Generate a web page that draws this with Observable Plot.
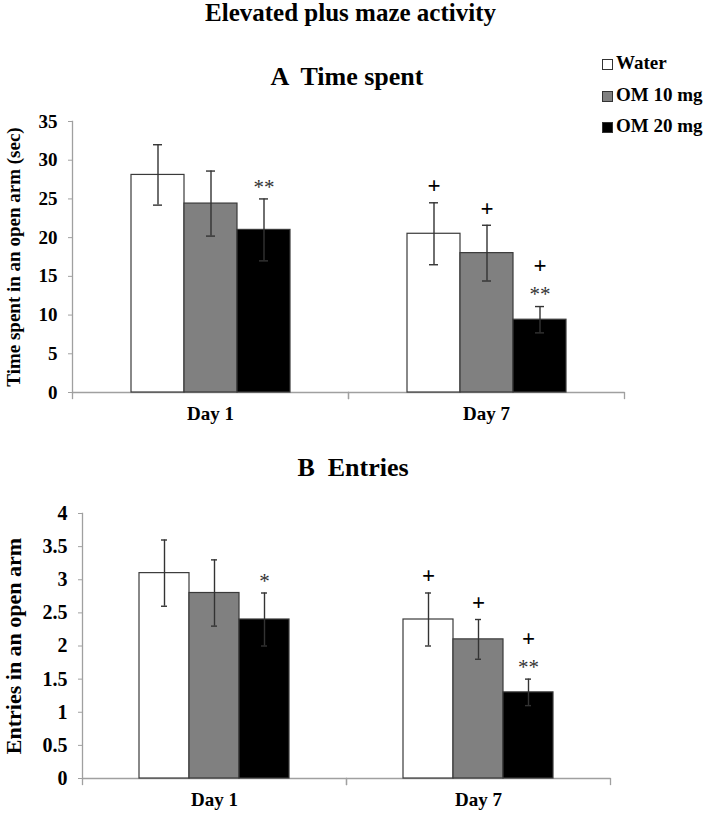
<!DOCTYPE html>
<html><head><meta charset="utf-8">
<script src="https://cdn.jsdelivr.net/npm/d3@7"></script>
<script src="https://cdn.jsdelivr.net/npm/@observablehq/plot@0.6"></script>
<style>
body{margin:0;background:#fff;}
#root{position:relative;width:708px;height:814px;font-family:'Liberation Serif','Times New Roman',serif;font-weight:bold;color:#000;overflow:hidden;}
.t{position:absolute;white-space:pre;line-height:1;}
.sw{position:absolute;width:9px;height:9px;border:1px solid #333;}
.panel{position:absolute;left:0;}
.panel svg, .panel svg text{font-family:'Liberation Serif','Times New Roman',serif !important;}
</style></head><body><div id="root">
<div class="t" style="left:0;width:701px;text-align:center;top:0px;font-size:25px;">Elevated plus maze activity</div>
<div class="t" style="left:0;width:694px;text-align:center;top:64px;font-size:26px;">A  Time spent</div>
<div class="t" style="left:0;width:706px;text-align:center;top:455px;font-size:26px;">B  Entries</div>
<div id="legend"></div>
<div class="panel" id="pa" style="top:100px;"></div>
<div class="panel" id="pb" style="top:493px;"></div>
</div>
<script>
const days = ["Day 1", "Day 7"];
const groups = ["Water", "OM 10 mg", "OM 20 mg"];
const groupColors = ["#ffffff", "#808080", "#000000"];

// Panel A: time spent in an open arm (sec)
const timeDay1 = [28.1, 24.4, 21.0];
const timeDay7 = [20.5, 18.0, 9.4];
const timeErrDay1 = [3.9, 4.2, 4.0];
const timeErrDay7 = [4.0, 3.6, 1.7];
const timeTicks = [0, 5, 10, 15, 20, 25, 30, 35];
const timeStars = [["Day 1", "OM 20 mg", "**"], ["Day 7", "OM 20 mg", "**"]];
const timePlus = [["Day 7", "Water"], ["Day 7", "OM 10 mg"], ["Day 7", "OM 20 mg"]];

// Panel B: entries in an open arm
const entriesDay1 = [3.1, 2.8, 2.4];
const entriesDay7 = [2.4, 2.1, 1.3];
const entriesErrDay1 = [0.5, 0.5, 0.4];
const entriesErrDay7 = [0.4, 0.3, 0.2];
const entriesTicks = [0, 0.5, 1, 1.5, 2, 2.5, 3, 3.5, 4];
const entriesStars = [["Day 1", "OM 20 mg", "*"], ["Day 7", "OM 20 mg", "**"]];
const entriesPlus = [["Day 7", "Water"], ["Day 7", "OM 10 mg"], ["Day 7", "OM 20 mg"]];

function rowsFor(v1, v7, e1, e7) {
  const rows = [];
  groups.forEach((g, i) => rows.push({day: days[0], group: g, value: v1[i], err: e1[i]}));
  groups.forEach((g, i) => rows.push({day: days[1], group: g, value: v7[i], err: e7[i]}));
  return rows;
}

const FONT = "'Liberation Serif','Times New Roman',serif";

function panel(cfg) {
  const rows = rowsFor(cfg.v1, cfg.v7, cfg.e1, cfg.e7);
  const top = (day, group) => { const r = rows.find(d => d.day === day && d.group === group); return r.value + r.err; };
  const stars = cfg.stars.map(([day, group, label]) => ({day, group, label, y: top(day, group)}));
  const starKeys = new Set(cfg.stars.map(s => s[0] + "|" + s[1]));
  const plus = cfg.plus.map(([day, group]) => ({day, group, y: top(day, group), stacked: starKeys.has(day + "|" + group)}));
  const innerH = cfg.height - cfg.marginTop - cfg.marginBottom;
  const axisStroke = "#a0a0a0";
  return Plot.plot({
    width: 708, height: cfg.height,
    marginLeft: cfg.marginLeft, marginRight: cfg.marginRight,
    marginTop: cfg.marginTop, marginBottom: cfg.marginBottom,
    style: `font-family:${FONT};font-weight:bold;background:transparent;color:#000;overflow:visible;`,
    fx: {domain: days, padding: 0, label: null},
    x: {domain: groups, paddingInner: 0, paddingOuter: 1.1, axis: null},
    y: {domain: cfg.yDomain, axis: null},
    color: {domain: groups, range: groupColors},
    marks: [
      Plot.ruleY([0], {stroke: axisStroke, strokeWidth: 1.3}),
      Plot.frame({anchor: "left", facetAnchor: "left", stroke: axisStroke, strokeWidth: 1.3}),
      Plot.frame({anchor: "left", insetTop: innerH, insetBottom: -6, stroke: axisStroke, strokeWidth: 1.3}),
      Plot.frame({anchor: "right", insetTop: innerH, insetBottom: -6, stroke: axisStroke, strokeWidth: 1.3}),
      Plot.barY(rows, {fx: "day", x: "group", y: "value", fill: "group", stroke: "#3a3a3a", strokeWidth: 1.2}),
      Plot.ruleX(rows, {fx: "day", x: "group", y1: d => d.value - d.err, y2: d => d.value + d.err, stroke: "#333", strokeWidth: 1.4}),
      Plot.tickY(rows, {fx: "day", x: "group", y: d => d.value + d.err, stroke: "#333", strokeWidth: 1.4, insetLeft: 22, insetRight: 22}),
      Plot.tickY(rows, {fx: "day", x: "group", y: d => d.value - d.err, stroke: "#333", strokeWidth: 1.4, insetLeft: 22, insetRight: 22}),
      Plot.text(stars, {fx: "day", x: "group", y: "y", text: "label", dy: -12, fontSize: 21, fontFamily: FONT, fontWeight: "normal", fill: "#333"}),
      Plot.text(plus, {fx: "day", x: "group", y: "y", text: () => "+", fontSize: 23, fontFamily: FONT, fontWeight: "bold", fill: "black",
        filter: d => !d.stacked, dy: -17}),
      Plot.text(plus, {fx: "day", x: "group", y: "y", text: () => "+", fontSize: 23, fontFamily: FONT, fontWeight: "bold", fill: "black",
        filter: d => d.stacked, dy: -41}),
      Plot.axisY({ticks: cfg.ticks, tickFormat: d => String(d), tickSize: 4, tickPadding: 11, stroke: axisStroke, fill: "#000",
        fontSize: cfg.tickFont, fontFamily: FONT, fontWeight: "bold", label: null}),
      Plot.text([cfg.label], {frameAnchor: "left", facetAnchor: "left", textAnchor: "middle", rotate: -90, dx: -cfg.labelX,
        fontSize: cfg.labelFont, fontFamily: FONT, fontWeight: "bold", fill: "#000"}),
      Plot.axisFx({anchor: "bottom", tickSize: 0, tickPadding: 14, fontSize: 19, fontFamily: FONT, fontWeight: "bold", label: null, fill: "#000"})
    ]
  });
}

document.getElementById("pa").appendChild(panel({
  v1: timeDay1, v7: timeDay7, e1: timeErrDay1, e7: timeErrDay7,
  stars: timeStars, plus: timePlus, ticks: timeTicks, yDomain: [0, 35],
  height: 335, marginTop: 21, marginBottom: 43, marginLeft: 71, marginRight: 84,
  tickFont: 19, label: "Time spent in an open arm (sec)", labelFont: 19, labelX: 59
}));
document.getElementById("pb").appendChild(panel({
  v1: entriesDay1, v7: entriesDay7, e1: entriesErrDay1, e7: entriesErrDay7,
  stars: entriesStars, plus: entriesPlus, ticks: entriesTicks, yDomain: [0, 4],
  height: 320, marginTop: 20, marginBottom: 35, marginLeft: 81, marginRight: 98,
  tickFont: 20, label: "Entries in an open arm", labelFont: 22, labelX: 69
}));

// legend
const legend = document.getElementById("legend");
const legendTops = [53, 85, 116];
groups.forEach((g, i) => {
  const sw = document.createElement("div");
  sw.className = "sw";
  sw.style.left = "602px";
  sw.style.top = (legendTops[i] + 6) + "px";
  sw.style.background = groupColors[i];
  legend.appendChild(sw);
  const tx = document.createElement("div");
  tx.className = "t";
  tx.style.left = "616px";
  tx.style.top = legendTops[i] + "px";
  tx.style.fontSize = "19px";
  tx.textContent = g;
  legend.appendChild(tx);
});
</script>
</body></html>
